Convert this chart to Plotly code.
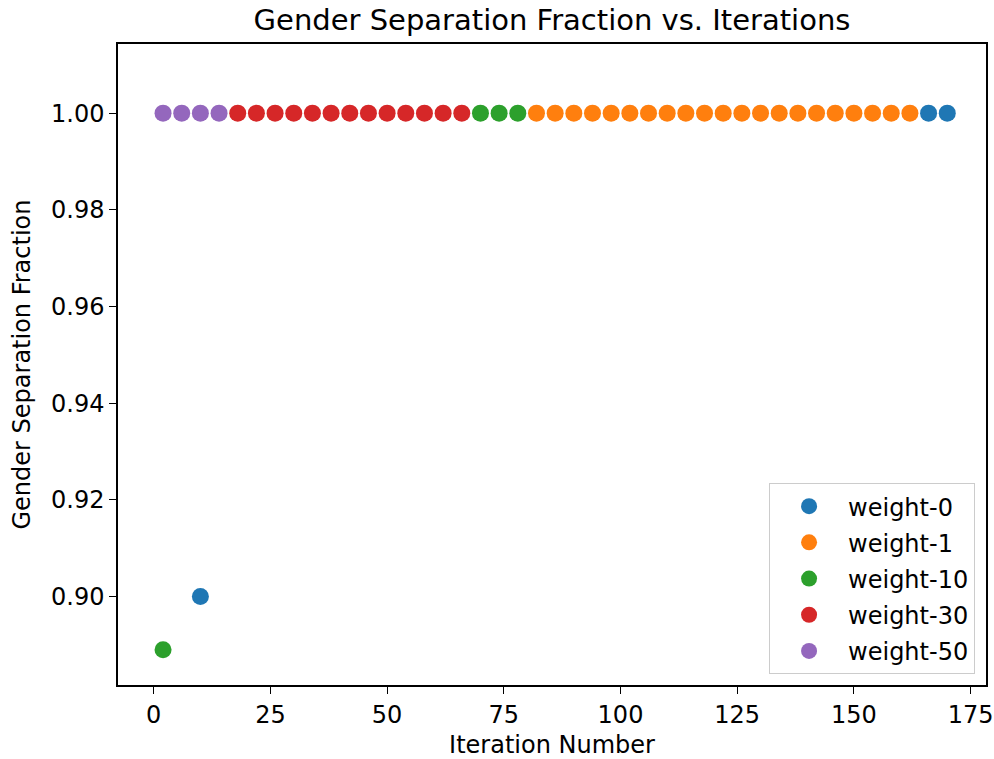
import plotly.graph_objects as go

# Iteration number (x) and gender separation fraction (y) for each weight setting
w0_iter = [10, 166, 170]
w0_frac = [0.90, 1.0, 1.0]

w1_iter = [82, 86, 90, 94, 98, 102, 106, 110, 114, 118, 122,
           126, 130, 134, 138, 142, 146, 150, 154, 158, 162]
w1_frac = [1.0] * 21

w10_iter = [2, 70, 74, 78]
w10_frac = [0.889, 1.0, 1.0, 1.0]

w30_iter = [18, 22, 26, 30, 34, 38, 42, 46, 50, 54, 58, 62, 66]
w30_frac = [1.0] * 13

w50_iter = [2, 6, 10, 14]
w50_frac = [1.0, 1.0, 1.0, 1.0]

series_names = ["weight-0", "weight-1", "weight-10", "weight-30", "weight-50"]
series_iters = [w0_iter, w1_iter, w10_iter, w30_iter, w50_iter]
series_fracs = [w0_frac, w1_frac, w10_frac, w30_frac, w50_frac]
series_colors = ["#1f77b4", "#ff7f0e", "#2ca02c", "#d62728", "#9467bd"]

x_ticks = [0, 25, 50, 75, 100, 125, 150, 175]
y_ticks = [0.90, 0.92, 0.94, 0.96, 0.98, 1.00]

FONT = "DejaVu Sans"

fig = go.Figure()
for name, xs, ys, col in zip(series_names, series_iters, series_fracs, series_colors):
    fig.add_trace(go.Scatter(
        x=xs, y=ys, mode="markers", name=name, legendgroup=name,
        marker=dict(color=col, size=17, line=dict(width=0)),
    ))

axis_common = dict(
    showline=True, linecolor="black", linewidth=1.5, mirror=True,
    ticks="outside", ticklen=7, tickwidth=1.3, tickcolor="black",
    showgrid=False, zeroline=False, automargin=False,
    tickfont=dict(family=FONT, size=24, color="black"),
)

fig.update_layout(
    width=994, height=759,
    margin=dict(l=118, r=8, t=44, b=74),
    plot_bgcolor="white", paper_bgcolor="white",
    font=dict(family=FONT, color="black"),
    title=dict(
        text="Gender Separation Fraction vs. Iterations",
        font=dict(family=FONT, size=29, color="black"),
        x=0.5, xanchor="center", xref="paper",
        y=1 - 20 / 759, yanchor="middle", yref="container",
    ),
    xaxis=dict(
        range=[-7.65, 178.3], tickvals=x_ticks,
        title=dict(text="Iteration Number", font=dict(family=FONT, size=24), standoff=13),
        **axis_common,
    ),
    yaxis=dict(
        range=[0.8817, 1.0143], tickvals=y_ticks, tickformat=".2f",
        **axis_common,
    ),
    legend=dict(
        x=0.9874, y=0.0171, xanchor="right", yanchor="bottom",
        bgcolor="rgba(255,255,255,0.8)", bordercolor="#cccccc", borderwidth=1,
        font=dict(family=FONT, size=24, color="black"),
        traceorder="grouped", tracegroupgap=2, itemwidth=68,
    ),
    showlegend=True,
)

# Y-axis title placed as a rotated annotation left of the tick labels
fig.add_annotation(
    text="Gender Separation Fraction", textangle=-90,
    xref="paper", yref="paper", x=-0.1106, y=0.5,
    xanchor="center", yanchor="middle", showarrow=False,
    font=dict(family=FONT, size=24, color="black"),
)

fig.write_html("out.html")
